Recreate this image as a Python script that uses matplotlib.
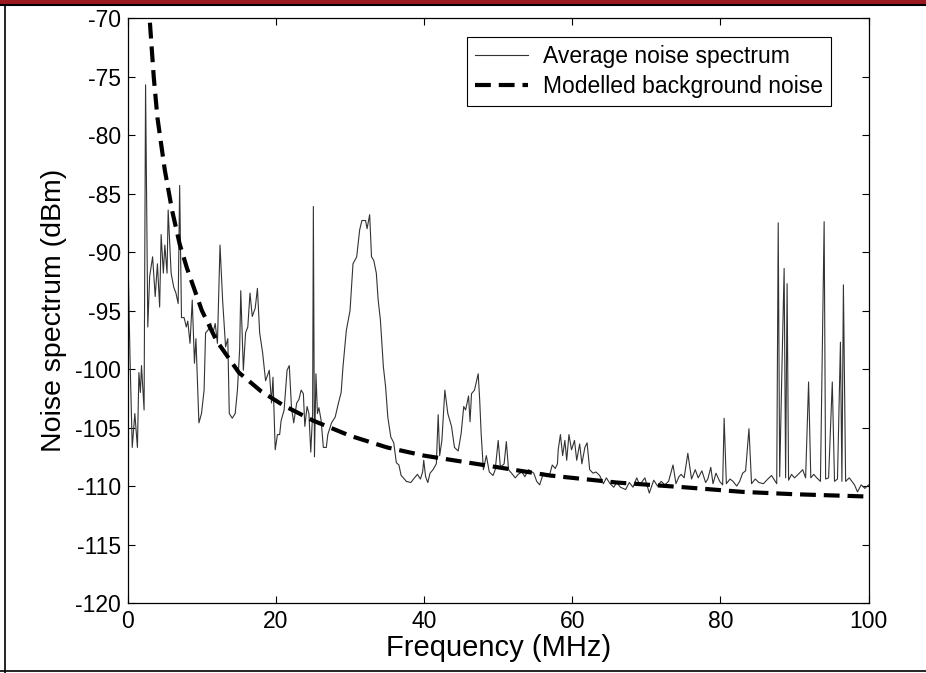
import numpy as np
import matplotlib.pyplot as plt
from matplotlib.lines import Line2D
from matplotlib.patches import Rectangle

plt.rcParams['font.family'] = ['Liberation Sans', 'DejaVu Sans']
plt.rcParams['axes.unicode_minus'] = False

# Average noise spectrum (MHz, dBm)
freq_mhz = [
    0.0, 0.3, 0.6, 0.95, 1.3, 1.5, 1.7, 1.85, 2.2, 2.4, 2.7, 2.95, 3.35, 3.7, 4.0, 4.3, 4.5, 4.8,
    5.0, 5.3, 5.45, 5.85, 6.2, 6.5, 6.8, 7.0, 7.25, 7.6, 7.9, 8.1, 8.4, 8.7, 9.0, 9.2, 9.6, 9.95,
    10.3, 10.5, 10.8, 11.2, 11.5, 11.8, 12.1, 12.45, 12.8, 13.2, 13.5, 13.7, 14.1, 14.5, 14.8,
    15.1, 15.25, 15.6, 15.9, 16.2, 16.5, 16.8, 17.2, 17.5, 17.8, 18.2, 18.6, 19.1, 19.4, 19.6,
    19.9, 20.2, 20.5, 20.7, 21.1, 21.5, 21.8, 22.1, 22.4, 22.8, 23.1, 23.4, 23.7, 23.9, 24.2,
    24.45, 24.7, 24.95, 25.05, 25.2, 25.4, 25.6, 25.8, 26.1, 26.4, 26.8, 27.0, 27.5, 28.0, 28.4,
    28.8, 29.05, 29.5, 30.0, 30.4, 30.9, 31.3, 31.6, 32.1, 32.3, 32.65, 32.9, 33.2, 33.55, 33.8,
    34.1, 34.5, 34.8, 35.1, 35.5, 35.9, 36.25, 36.6, 36.9, 37.2, 37.6, 38.2, 38.7, 39.1, 39.5,
    39.8, 39.95, 40.2, 40.5, 40.8, 41.2, 41.65, 41.9, 42.1, 42.4, 42.8, 43.2, 43.7, 44.1, 44.6,
    45.0, 45.35, 45.6, 45.9, 46.0, 46.2, 46.4, 46.8, 47.3, 47.5, 47.7, 48.0, 48.4, 48.8, 49.3,
    49.6, 50.0, 50.3, 50.8, 51.1, 51.4, 51.8, 52.3, 52.7, 53.2, 53.6, 54.1, 54.8, 55.2, 55.6,
    56.1, 56.5, 57.0, 57.3, 57.7, 58.0, 58.1, 58.4, 58.7, 59.0, 59.25, 59.55, 59.9, 60.3, 60.6,
    61.0, 61.3, 61.7, 62.0, 62.35, 62.8, 63.2, 63.7, 64.2, 64.6, 65.1, 65.6, 66.0, 66.5, 67.2,
    67.7, 68.2, 68.7, 69.1, 69.8, 70.4, 71.0, 71.5, 72.0, 72.5, 73.0, 73.6, 74.0, 74.4, 74.7,
    75.1, 75.6, 76.1, 76.6, 77.0, 77.5, 78.0, 78.3, 78.7, 79.0, 79.4, 79.9, 80.3, 80.5, 80.8,
    81.3, 81.7, 82.2, 82.6, 83.0, 83.4, 83.85, 84.2, 84.7, 85.2, 85.8, 86.4, 86.9, 87.3, 87.6,
    87.8, 88.0, 88.3, 88.6, 88.8, 89.0, 89.2, 89.6, 90.0, 90.5, 91.1, 91.5, 91.9, 92.2, 92.6,
    93.0, 93.5, 94.0, 94.2, 94.6, 95.1, 95.4, 95.8, 96.2, 96.4, 96.6, 96.9, 97.4, 98.1, 98.5,
    99.0, 99.5, 100.0,
]
noise_dbm = [
    -89.5, -99.0, -106.7, -103.8, -106.7, -100.3, -102.0, -99.7, -103.5, -75.7, -96.4, -92.1,
    -90.4, -93.8, -91.0, -94.7, -88.5, -91.8, -89.4, -91.8, -86.4, -91.8, -93.0, -93.5, -94.4,
    -84.3, -95.6, -95.6, -96.4, -95.9, -97.8, -94.1, -99.5, -97.4, -104.6, -103.8, -101.8,
    -96.9, -96.7, -96.1, -96.9, -96.1, -97.8, -89.4, -94.1, -98.1, -97.4, -103.8, -104.2,
    -103.8, -101.8, -98.3, -93.3, -100.1, -96.9, -96.4, -93.5, -95.5, -94.8, -93.1, -96.9,
    -98.6, -101.0, -100.1, -102.9, -100.7, -106.9, -105.6, -105.6, -104.4, -103.5, -100.1,
    -99.7, -103.3, -104.6, -102.9, -102.6, -101.8, -102.1, -104.9, -103.2, -103.8, -107.1,
    -103.8, -86.1, -107.5, -100.4, -103.8, -103.3, -104.4, -106.7, -106.7, -105.6, -104.6,
    -104.1, -103.0, -102.0, -99.8, -96.7, -95.0, -91.0, -90.4, -88.1, -87.3, -87.3, -88.0,
    -86.8, -90.4, -90.7, -91.8, -94.1, -95.8, -99.8, -101.5, -104.1, -105.8, -106.3, -108.0,
    -108.2, -109.1, -109.3, -109.6, -109.7, -109.3, -109.0, -109.4, -108.8, -107.8, -109.2,
    -109.7, -108.9, -108.6, -108.1, -103.9, -107.4, -106.1, -101.8, -103.8, -104.9, -106.7,
    -107.0, -105.5, -103.2, -103.5, -102.6, -102.3, -104.5, -102.1, -101.8, -100.4, -102.6,
    -105.5, -108.6, -107.4, -108.8, -109.1, -108.6, -106.1, -108.4, -108.1, -106.2, -108.6,
    -108.9, -109.3, -109.0, -108.8, -109.2, -108.6, -108.9, -109.6, -109.9, -108.9, -109.2,
    -108.9, -108.2, -108.5, -108.1, -106.9, -105.6, -107.4, -106.1, -107.8, -105.6, -106.9,
    -106.1, -107.8, -106.4, -108.1, -106.7, -106.3, -108.6, -108.9, -108.8, -109.1, -109.8,
    -109.3, -109.8, -110.1, -109.7, -110.1, -110.3, -109.7, -110.1, -109.3, -109.9, -109.3,
    -110.6, -109.5, -110.0, -109.6, -109.9, -109.6, -108.2, -109.8, -109.2, -109.0, -109.3,
    -107.2, -109.4, -108.6, -109.3, -108.7, -109.7, -109.4, -108.4, -109.8, -108.9, -109.6,
    -109.9, -104.2, -109.8, -109.4, -109.6, -110.0, -109.6, -108.9, -108.7, -105.1, -109.8,
    -109.4, -109.7, -109.8, -109.4, -109.1, -109.5, -109.8, -87.5, -109.2, -100.0, -91.4,
    -109.3, -92.7, -109.5, -109.0, -109.3, -109.0, -108.6, -109.3, -101.1, -109.3, -109.0,
    -109.3, -109.6, -87.4, -109.4, -109.3, -101.1, -109.6, -109.4, -97.7, -109.6, -92.8,
    -109.6, -109.3, -109.9, -110.5, -109.9, -110.2, -109.9,
]

# Modelled background noise (MHz, dBm)
model_freq = [2.7, 3.0, 3.5, 4.0, 5.0, 6.0, 7.0, 8.0, 10.0, 12.0, 15.0, 18.0, 21.0, 25.0,
              30.0, 35.0, 40.0, 48.0, 57.0, 66.0, 75.0, 83.0, 90.0, 100.0]
model_dbm = [-67.5, -70.5, -75.0, -78.5, -83.0, -86.5, -89.3, -91.4, -95.0, -97.6, -100.3,
             -101.9, -103.1, -104.4, -105.7, -106.7, -107.4, -108.2, -109.1, -109.7, -110.1,
             -110.5, -110.7, -110.9]

fig = plt.figure(figsize=(9.26, 6.73), dpi=100)
ax = fig.add_axes([0.138, 0.104, 0.8, 0.869])

ax.plot(freq_mhz, noise_dbm, color='#333333', lw=0.8, label='Average noise spectrum')
ax.plot(model_freq, model_dbm, color='black', lw=3.0, dashes=(3.8, 1.9),
        label='Modelled background noise')

ax.set_xlim(0, 100)
ax.set_ylim(-120, -70)
ax.set_xticks([0, 20, 40, 60, 80, 100])
ax.set_yticks(np.arange(-120, -69, 5))
ax.tick_params(direction='in', top=True, right=True, length=5, width=0.8,
               labelsize=16.5, pad=5)
for s in ax.spines.values():
    s.set_linewidth(0.9)

ax.set_xlabel('Frequency (MHz)', fontsize=21, labelpad=1)
ax.set_ylabel('Noise spectrum (dBm)', fontsize=20.5, labelpad=6)

leg = ax.legend(loc='upper right', bbox_to_anchor=(0.949, 0.968), fontsize=16.5,
                fancybox=False, edgecolor='black', framealpha=1, handlelength=2.3,
                handletextpad=0.65, borderpad=0.35, labelspacing=0.3, borderaxespad=0)
leg.get_frame().set_linewidth(0.8)

# page frame around the figure
H = 673.0
fig.add_artist(Rectangle((0, 1 - 4 / H), 1, 4 / H, transform=fig.transFigure,
                         color='#9b1a1f', lw=0))
fig.add_artist(Line2D([0, 1], [1 - 5 / H] * 2, transform=fig.transFigure, color='black', lw=1.5))
fig.add_artist(Line2D([5 / 926] * 2, [0, 1 - 5 / H], transform=fig.transFigure, color='black', lw=1.2))
fig.add_artist(Line2D([0, 1], [2 / H] * 2, transform=fig.transFigure, color='black', lw=1.2))

fig.savefig('out.png', dpi=100)
